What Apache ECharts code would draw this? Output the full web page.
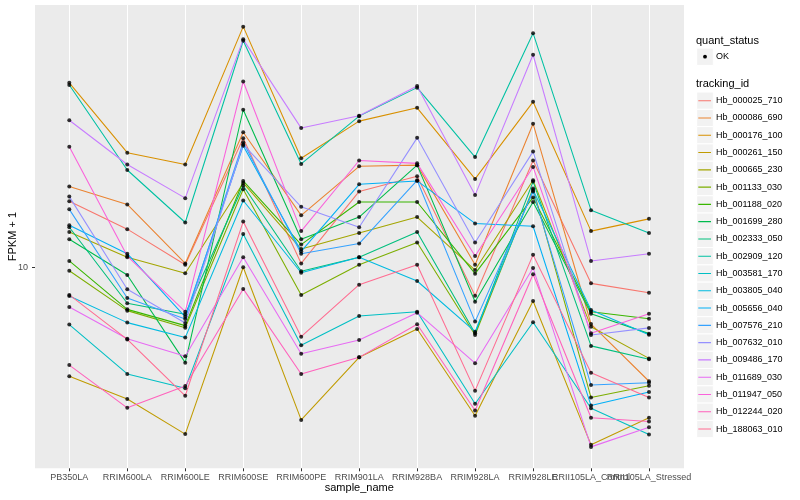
<!DOCTYPE html>
<html><head><meta charset="utf-8">
<script src="https://cdn.jsdelivr.net/npm/echarts@6/dist/echarts.min.js"></script>
<style>html,body{margin:0;padding:0;background:#fff}#c{width:800px;height:500px}</style>
</head><body><div id="c"></div>
<script>
// ---- data ----
const sampleNames = ['PB350LA','RRIM600LA','RRIM600LE','RRIM600SE','RRIM600PE','RRIM901LA','RRIM928BA','RRIM928LA','RRIM928LE','RRII105LA_Control','RRII105LA_Stressed'];
const trackingIds = ['Hb_000025_710','Hb_000086_690','Hb_000176_100','Hb_000261_150','Hb_000665_230','Hb_001133_030','Hb_001188_020','Hb_001699_280','Hb_002333_050','Hb_002909_120','Hb_003581_170','Hb_003805_040','Hb_005656_040','Hb_007576_210','Hb_007632_010','Hb_009486_170','Hb_011689_030','Hb_011947_050','Hb_012244_020','Hb_188063_010'];
const quantStatus = ['OK'];
const yTickValues = [10];

// FPKM + 1, one array per tracking_id, in sampleNames order
const Hb_000025_710 = [16.6, 13.4, 10.2, 26.9, 10.3, 17.9, 20.1, 8.04, 22.7, 8.84, 8.23];
const Hb_000086_690 = [18.6, 16.2, 10.3, 28.2, 14.9, 21.7, 21.9, 10.2, 30.1, 6.47, 4.17];
const Hb_000176_100 = [41.2, 24.1, 22.0, 63.4, 23.1, 30.7, 34.0, 19.7, 35.6, 13.2, 14.5];
const Hb_000261_150 = [4.33, 3.64, 2.78, 10.0, 3.10, 5.01, 6.23, 3.20, 7.72, 2.56, 3.15];
const Hb_000665_230 = [13.1, 10.8, 9.55, 19.1, 11.5, 13.0, 14.7, 9.79, 19.5, 6.34, 4.97];
const Hb_001133_030 = [9.74, 7.17, 6.29, 18.2, 8.09, 10.2, 12.1, 5.95, 18.3, 3.68, 4.03];
const Hb_001188_020 = [10.5, 7.24, 6.39, 19.4, 11.9, 16.5, 16.5, 9.52, 17.1, 7.11, 6.74];
const Hb_001699_280 = [12.4, 9.43, 4.81, 33.5, 12.4, 14.7, 21.9, 7.68, 16.5, 7.00, 6.01];
const Hb_002333_050 = [13.6, 7.59, 6.97, 18.7, 9.70, 10.8, 13.1, 6.03, 19.3, 5.47, 4.94];
const Hb_002909_120 = [40.5, 21.1, 14.1, 56.9, 22.1, 31.9, 39.7, 23.3, 60.3, 15.5, 13.0];
const Hb_003581_170 = [6.44, 4.41, 3.95, 12.9, 5.50, 6.88, 7.11, 3.51, 6.56, 3.39, 2.77];
const Hb_003805_040 = [8.02, 6.54, 5.83, 16.7, 9.59, 10.8, 9.00, 6.10, 18.1, 7.21, 5.96];
const Hb_005656_040 = [13.8, 11.1, 6.84, 25.4, 11.3, 18.9, 19.4, 14.0, 13.7, 3.46, 3.84];
const Hb_007576_210 = [15.6, 7.90, 6.73, 26.1, 11.1, 12.0, 19.5, 6.59, 17.9, 4.05, 4.12];
const Hb_007632_010 = [17.2, 8.45, 6.52, 25.7, 15.9, 13.6, 27.0, 12.1, 24.3, 5.95, 6.28];
const Hb_009486_170 = [30.9, 22.0, 17.0, 57.5, 29.1, 32.0, 40.2, 17.4, 51.1, 10.5, 11.1];
const Hb_011689_030 = [7.37, 5.78, 5.05, 10.8, 5.15, 5.72, 7.06, 4.79, 9.95, 2.52, 2.93];
const Hb_011947_050 = [25.2, 10.9, 7.11, 41.6, 13.2, 22.7, 22.2, 10.9, 21.6, 6.03, 7.00];
const Hb_012244_020 = [4.72, 3.40, 4.02, 8.47, 4.41, 5.01, 6.46, 3.33, 9.48, 3.15, 3.06];
const Hb_188063_010 = [8.09, 5.75, 3.73, 14.2, 5.87, 8.75, 10.2, 3.88, 11.0, 4.45, 3.68];

const seriesValues = [Hb_000025_710, Hb_000086_690, Hb_000176_100, Hb_000261_150, Hb_000665_230,
  Hb_001133_030, Hb_001188_020, Hb_001699_280, Hb_002333_050, Hb_002909_120, Hb_003581_170,
  Hb_003805_040, Hb_005656_040, Hb_007576_210, Hb_007632_010, Hb_009486_170, Hb_011689_030,
  Hb_011947_050, Hb_012244_020, Hb_188063_010];

// ---- styles ----
const trackColors = ['#F8766D','#EA8331','#D89000','#C09B00','#A3A500','#7CAE00','#39B600','#00BB4E','#00BF7D','#00C1A3','#00BFC4','#00BAE0','#00B0F6','#35A2FF','#9590FF','#C77CFF','#E76BF3','#FA62DB','#FF62BC','#FF6C91'];
const FONT = '"Liberation Sans", Arial, Helvetica, sans-serif';
const Y_MIN = 2.138, Y_MAX = 74.85;
const PANEL = {left: 35, right: 116, top: 5, bottom: 31.7};
const KEY_H = 17.28, LEG_TOP = 92.06;

const chart = echarts.init(document.getElementById('c'), null, {renderer: 'canvas'});

const lineSeries = trackingIds.map((id, k) => ({
  name: id, type: 'line', xAxisIndex: 1, yAxisIndex: 1,
  data: seriesValues[k], symbol: 'none', showSymbol: false,
  lineStyle: {width: 1.07, color: trackColors[k]},
  itemStyle: {color: trackColors[k]},
  emphasis: {disabled: true}, silent: true, z: 2
}));
const pointData = [];
seriesValues.forEach(vals => vals.forEach((v, i) => pointData.push([sampleNames[i], v])));
const pointSeries = {
  name: quantStatus[0], type: 'scatter', xAxisIndex: 1, yAxisIndex: 1,
  data: pointData, symbol: 'circle', symbolSize: 4,
  itemStyle: {color: '#000'}, silent: true, z: 3, emphasis: {disabled: true}
};

const graphics = [
  {type: 'text', x: 696, y: 40.7, style: {text: 'quant_status', font: '11px ' + FONT, fill: '#000', verticalAlign: 'middle'}},
  {type: 'rect', x: 696.7, y: 48.1, shape: {width: 16.6, height: KEY_H}, style: {fill: '#F2F2F2', stroke: '#fff', lineWidth: 1}, z: 0},
  {type: 'circle', x: 705, y: 56.7, shape: {r: 1.9}, style: {fill: '#000'}, z: 1},
  {type: 'text', x: 716, y: 56.7, style: {text: quantStatus[0], font: '9px ' + FONT, fill: '#000', verticalAlign: 'middle'}},
  {type: 'text', x: 696, y: 84, style: {text: 'tracking_id', font: '11px ' + FONT, fill: '#000', verticalAlign: 'middle'}},
  {type: 'text', x: 359.3, y: 488.3, style: {text: 'sample_name', font: '11px ' + FONT, fill: '#000', align: 'center', verticalAlign: 'middle'}},
  {type: 'text', x: 12.5, y: 236.6, rotation: Math.PI / 2, style: {text: 'FPKM + 1', font: '11px ' + FONT, fill: '#000', align: 'center', verticalAlign: 'middle'}}
];
trackingIds.forEach((id, i) => graphics.push({
  type: 'rect', x: 696.7, y: LEG_TOP + KEY_H * i, shape: {width: 16.6, height: KEY_H},
  style: {fill: '#F2F2F2', stroke: '#fff', lineWidth: 1}, z: 0
}));

const option = {
  animation: false,
  backgroundColor: '#fff',
  grid: [
    Object.assign({show: true, backgroundColor: '#EBEBEB', borderWidth: 0, containLabel: false, outerBoundsMode: 'none'}, PANEL),
    {left: 69.3, right: 151, top: PANEL.top, bottom: PANEL.bottom, show: false, containLabel: false, outerBoundsMode: 'none'}
  ],
  xAxis: [
    {gridIndex: 0, type: 'value', min: 0, max: 1, show: false},
    {gridIndex: 1, type: 'category', data: sampleNames, boundaryGap: false,
     axisLine: {show: false},
     axisTick: {show: true, length: 3, lineStyle: {color: '#333', width: 1}, interval: 0},
     axisLabel: {interval: 0, hideOverlap: false, margin: 5, fontSize: 9, color: '#4D4D4D', fontFamily: FONT},
     splitLine: {show: true, interval: 0, lineStyle: {color: '#fff', width: 1.07}}}
  ],
  yAxis: [
    {gridIndex: 0, type: 'log', logBase: 10, min: Y_MIN, max: Y_MAX,
     axisLine: {show: false},
     axisTick: {show: true, length: 3, customValues: yTickValues, lineStyle: {color: '#333', width: 1}},
     axisLabel: {show: true, customValues: yTickValues, margin: 7, fontSize: 9, color: '#4D4D4D', fontFamily: FONT,
                 showMinLabel: false, showMaxLabel: false,
                 formatter: v => (Math.abs(v - 10) < 1e-6 ? '10' : '')},
     splitLine: {show: true, showMinLine: false, showMaxLine: false, lineStyle: {color: '#fff', width: 1.07}}},
    {gridIndex: 1, type: 'log', logBase: 10, min: Y_MIN, max: Y_MAX, show: false, splitLine: {show: false}}
  ],
  legend: {
    orient: 'vertical', left: 694, top: LEG_TOP, padding: 0, itemGap: 0,
    itemWidth: 17, itemHeight: KEY_H, data: trackingIds, selectedMode: false,
    icon: 'path://M0,0L0.01,0L0,0.01Z M4.3,8.1L17,8.1L17,9.2L4.3,9.2Z M17,17.28L16.99,17.28L17,17.27Z',
    itemStyle: {borderWidth: 0},
    textStyle: {fontSize: 9, color: '#000', fontFamily: FONT},
    z: 5
  },
  graphic: graphics,
  series: lineSeries.concat([pointSeries])
};
chart.setOption(option);
</script>
</body></html>
